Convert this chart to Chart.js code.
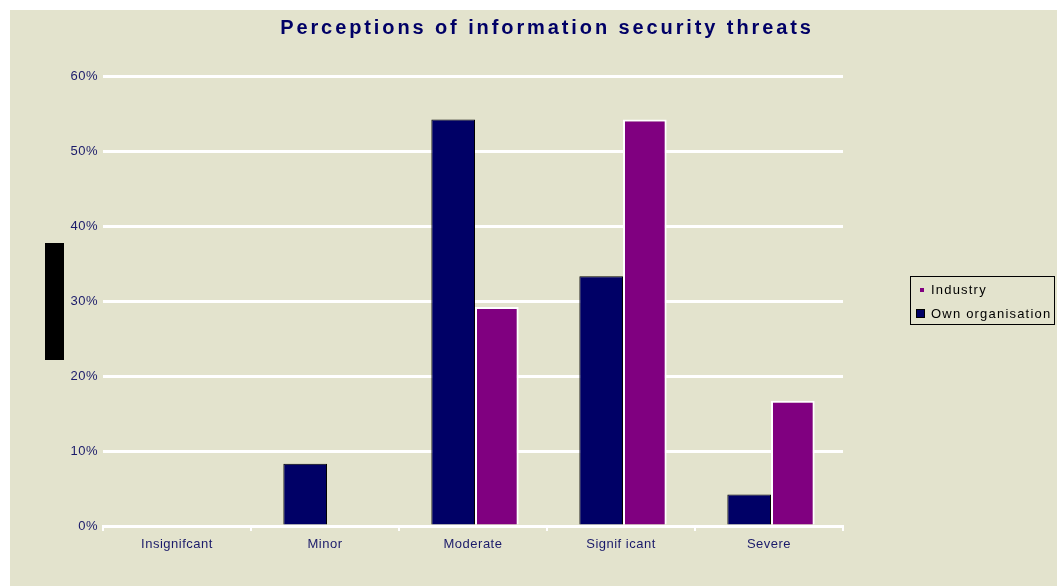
<!DOCTYPE html>
<html>
<head>
<meta charset="utf-8">
<script src="https://cdn.jsdelivr.net/npm/chart.js@4.4.1/dist/chart.umd.min.js"></script>
<style>
  html, body { margin: 0; padding: 0; background: #ffffff; }
  #wrap { position: relative; width: 1057px; height: 586px; overflow: hidden; }
  #chart { position: absolute; left: 0; top: 0; }
  #legend { position: absolute; left: 910px; top: 276px; width: 143px; height: 47px;
            border: 1px solid #000; font: 13px 'Liberation Sans', Arial, sans-serif;
            letter-spacing: 1.2px; color: #000; }
  .row { position: absolute; left: 0; height: 16px; line-height: 16px; }
  .mk { position: absolute; box-sizing: border-box; }
  .tx { position: absolute; left: 20px; white-space: nowrap; }
</style>
</head>
<body>
<div id="wrap">
  <canvas id="chart" width="1057" height="586"></canvas>
  <div id="legend"></div>
</div>
<script>
// ---- data ----
const chartTitle = 'Perceptions of information security threats';
const categories = ['Insignifcant', 'Minor', 'Moderate', 'Signif icant', 'Severe'];
const seriesNames = ['Own organisation', 'Industry'];
const ownOrganisation = [0, 8.3, 54.2, 33.3, 4.2];
const industry = [0, 0, 29.2, 54.2, 16.7];
const yTickValues = [0, 10, 20, 30, 40, 50, 60];

const NAVY = '#000066';
const PURPLE = '#800080';
const BG = '#E3E3CD';
const FONT = "'Liberation Sans', Arial, sans-serif";

const backgroundPlugin = {
  id: 'bgPlugin',
  beforeDraw(chart) {
    const ctx = chart.ctx;
    ctx.save();
    ctx.fillStyle = BG;
    ctx.fillRect(10, 10, chart.width - 10, chart.height - 10);
    ctx.fillStyle = '#000';
    ctx.fillRect(45, 243, 19, 117);
    ctx.restore();
    ctx.letterSpacing = '0.5px';
    const tb = chart.titleBlock;
    if (tb && !tb._wrappedLS) {
      const orig = tb.draw.bind(tb);
      tb.draw = function (area) {
        const c = this.ctx;
        const prev = c.letterSpacing;
        c.save();
        c.translate(104, 0);
        c.letterSpacing = '2.9px';
        orig(area);
        c.restore();
        c.letterSpacing = prev;
      };
      tb._wrappedLS = true;
    }
  },
  beforeDatasetsDraw(chart) {
    chart.ctx.save();
    chart.ctx.translate(2, 0);
  },
  afterDatasetsDraw(chart) {
    chart.ctx.restore();
  },
  afterDraw(chart) {
    chart.ctx.letterSpacing = '0px';
  }
};

new Chart(document.getElementById('chart'), {
  type: 'bar',
  data: {
    labels: categories,
    datasets: [
      { label: seriesNames[0], data: ownOrganisation, backgroundColor: NAVY,
        borderColor: '#000000', borderWidth: 1 },
      { label: seriesNames[1], data: industry, backgroundColor: PURPLE,
        borderColor: '#ffffff', borderWidth: 2 }
    ]
  },
  options: {
    responsive: false,
    animation: false,
    devicePixelRatio: 1,
    layout: { padding: { left: 43, right: 214, top: 0, bottom: 20 } },
    datasets: { bar: { categoryPercentage: 0.59, barPercentage: 1.0 } },
    plugins: {
      legend: { display: false },
      tooltip: { enabled: false },
      title: {
        display: true,
        text: chartTitle,
        color: NAVY,
        font: { family: FONT, size: 20, weight: 'bold', lineHeight: 1.2 },
        padding: { top: 16, bottom: 36 }
      }
    },
    scales: {
      x: {
        afterFit(s) { s.height = 40; },
        grid: { display: true, drawOnChartArea: false, drawTicks: true, tickLength: 5,
                color: '#ffffff', lineWidth: 2, offset: true },
        border: { display: true, color: '#ffffff', width: 3 },
        ticks: { color: '#1a1a6a', padding: 6, font: { family: FONT, size: 13 } }
      },
      y: {
        min: 0, max: 60,
        afterFit(s) { s.width = 60; },
        afterBuildTicks(s) { s.ticks = yTickValues.map(v => ({ value: v })); },
        grid: { color: '#ffffff', lineWidth: 3, drawTicks: false },
        border: { display: false },
        ticks: { color: '#1a1a6a', padding: 5, font: { family: FONT, size: 13 },
                 callback: v => v + '%' }
      }
    }
  },
  plugins: [backgroundPlugin]
});

// ---- HTML legend (Industry first, as in the reference) ----
const legend = document.getElementById('legend');
const legendItems = [
  { name: seriesNames[1], color: PURPLE, top: 5, mk: { left: 9, top: 6, w: 4, h: 4, border: 'none' } },
  { name: seriesNames[0], color: NAVY, top: 29, mk: { left: 5, top: 3, w: 9, h: 9, border: '1px solid #000' } }
];
legendItems.forEach(it => {
  const row = document.createElement('div');
  row.className = 'row';
  row.style.top = it.top + 'px';
  row.style.width = '143px';
  const mk = document.createElement('div');
  mk.className = 'mk';
  Object.assign(mk.style, { left: it.mk.left + 'px', top: it.mk.top + 'px', width: it.mk.w + 'px',
    height: it.mk.h + 'px', background: it.color, border: it.mk.border });
  const tx = document.createElement('div');
  tx.className = 'tx';
  tx.textContent = it.name;
  row.appendChild(mk);
  row.appendChild(tx);
  legend.appendChild(row);
});
</script>
</body>
</html>
